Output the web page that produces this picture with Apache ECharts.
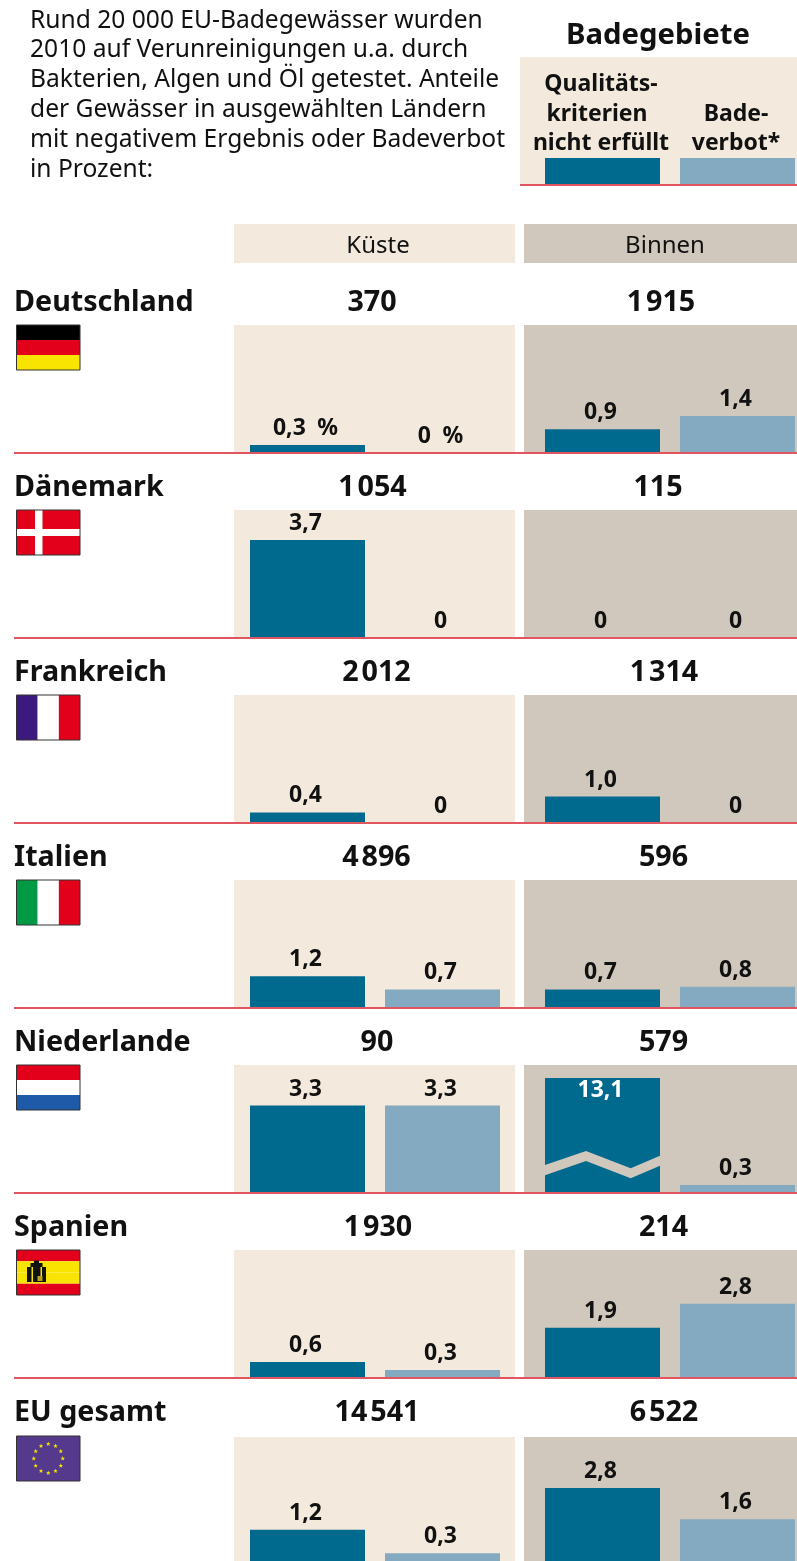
<!DOCTYPE html>
<html>
<head>
<meta charset="utf-8">
<script src="https://cdn.jsdelivr.net/npm/echarts@6/dist/echarts.min.js"></script>
<style>
html,body{margin:0;padding:0;background:#fff;overflow:hidden}
/* wider than the window: the right hand grid runs a few px past the edge */
#chart{width:830px;height:1561px}
</style>
</head>
<body>
<div id="chart"></div>
<script>
const countries=['Deutschland','Dänemark','Frankreich','Italien','Niederlande','Spanien','EU gesamt']
const coastTotal=[370,1054,2012,4896,90,1930,14541]
const inlandTotal=[1915,115,1314,596,579,214,6522]
const coastQuality=[0.3,3.7,0.4,1.2,3.3,0.6,1.2]
const coastBan=[0,0,0,0.7,3.3,0.3,0.3]
const inlandQuality=[0.9,0,1.0,0.7,13.1,1.9,2.8]
const inlandBan=[1.4,0,0,0.8,0.3,2.8,1.6]
const categories=['Qualitätskriterien nicht erfüllt','Badeverbot']
const legendSwatch=[1,1]
const introText=['Rund 20 000 EU-Badegewässer wurden','2010 auf Verunreinigungen u.a. durch','Bakterien, Algen und Öl getestet. Anteile','der Gewässer in ausgewählten Ländern','mit negativem Ergebnis oder Badeverbot','in Prozent:']

// the totals are not quite on one center line in the original
const coastTotalX=[372,372.5,376.5,376.5,377,378,377]
const inlandTotalX=[661,658,664,663.5,663.5,663.5,664]

const FONT='"Noto Sans"'
const DARK='#006a8e', LIGHT='#84aac2', SAND='#f3eadd', TAUPE='#d0c8bd', RED='#e0555f'
const ROW=185, SCALE=26.5, PANEL_H=128

const grid=[], xAxis=[], yAxis=[], series=[], elements=[]

function text(str,x,y,size,bold,align){
    elements.push({type:'text',z:20,style:{text:str,x:x,y:y,font:(bold?'bold ':'')+size+'px '+FONT,fill:'#111',textAlign:align||'left',textVerticalAlign:'middle'}})
}
function rect(x,y,w,h,fill,z){
    elements.push({type:'rect',z:z||1,shape:{x:x,y:y,width:w,height:h},style:{fill:fill,lineWidth:0}})
}
function fmtTotal(v){
    const s=String(v)
    return s.length>3?s.slice(0,-3)+'\u200a'+s.slice(-3):s
}
function fmtValue(v,unit){
    return (v===0?'0':v.toFixed(1).replace('.',','))+unit
}
function barLabel(unit){
    return {show:true,position:'top',distance:5,offset:[-2,0],fontWeight:'bold',fontSize:23,fontFamily:FONT,color:'#111',
        formatter:p=>fmtValue(p.value,unit)}
}

// one panel = one grid with two bars, the grid is a bit wider than the bars so the centers fit
function addBars(left,top,height,yMax,values,label,breaks){
    const idx=grid.length
    grid.push({left:left,top:top,width:270,height:height})
    xAxis.push({type:'category',gridIndex:idx,data:categories,show:false})
    const y={type:'value',gridIndex:idx,min:0,max:yMax,show:false}
    if(breaks){
        y.breaks=breaks
        y.breakArea={show:false}
    }
    yAxis.push(y)
    series.push({
        type:'bar',xAxisIndex:idx,yAxisIndex:idx,barWidth:115,z:5,silent:true,
        data:values.map((v,i)=>{
            const item={value:v,itemStyle:{color:i===0?DARK:LIGHT}}
            if(v>PANEL_H/SCALE){
                item.label={position:'insideTop',color:'#fff',distance:1}
            }
            return item
        }),
        label:label
    })
}

const maxPlain=PANEL_H/SCALE

countries.forEach((name,i)=>{
    const top=325+ROW*i, base=top+PANEL_H
    const panelTop=i===6?top+2:top
    rect(234,panelTop,281,base-panelTop,SAND,1)
    rect(524,panelTop,273,base-panelTop,TAUPE,1)
    // only the first coast panel has the % sign
    addBars(240,top,PANEL_H,maxPlain,[coastQuality[i],coastBan[i]],barLabel(i===0?'\u2002%':''))
    // Niederlande inland bar is 13,1, so that axis has a break
    if(inlandQuality[i]>maxPlain){
        addBars(535,top,PANEL_H,maxPlain+8.76,[inlandQuality[i],inlandBan[i]],barLabel(''),[{start:2.5,end:11.26,gap:0}])
    }else{
        addBars(535,top,PANEL_H,maxPlain,[inlandQuality[i],inlandBan[i]],barLabel(''))
    }
    rect(14,base-1,783,2,RED,15)
    text(name,14,302.5+ROW*i,28.7,true)
    text(fmtTotal(coastTotal[i]),coastTotalX[i],302.5+ROW*i,28.7,true,'center')
    text(fmtTotal(inlandTotal[i]),inlandTotalX[i],302.5+ROW*i,28.7,true,'center')
})

// legend
rect(520,57,277,128,SAND,1)
addBars(535,158,27,1,legendSwatch,{show:false})
rect(520,184,277,2,RED,15)
text('Badegebiete',658,36,29.3,true,'center')
text('Qualitäts-',601,84,23,true,'center')
text('kriterien',597,114,23,true,'center')
text('nicht erfüllt',601,143,23,true,'center')
text('Bade-',736,114,23,true,'center')
text('verbot*',736,143,23,true,'center')

introText.forEach((line,i)=>text(line,30,20.5+i*29.8,24.6,false))

// column heads
rect(234,224,281,39,SAND,1)
rect(524,224,273,39,TAUPE,1)
text('Küste',378,246.5,24,false,'center')
text('Binnen',665,246.5,24,false,'center')

// the zigzag over the broken bar
elements.push({type:'polygon',z:12,shape:{points:[[545,1165],[586,1151],[630.7,1168.3],[660,1155.7],[660,1165.7],[630.7,1178.3],[586,1161],[545,1175.3]]},style:{fill:TAUPE}})

// flags
function flag(i,draw){
    const x=16.5, y=325+ROW*i+(i===6?1:0), w=63.5, h=45
    draw(x,y,w,h)
    elements.push({type:'rect',z:9,shape:{x:x,y:y,width:w,height:h},style:{fill:'none',stroke:'#333',lineWidth:1}})
}
function hStripes(x,y,w,h,cols){
    cols.forEach((c,k)=>rect(x,y+k*h/cols.length,w,h/cols.length,c,5))
}
function vStripes(x,y,w,h,cols){
    cols.forEach((c,k)=>rect(x+k*w/cols.length,y,w/cols.length,h,c,5))
}
const FRED='#e2001a', FYEL='#f8e400'
flag(0,(x,y,w,h)=>hStripes(x,y,w,h,['#000',FRED,FYEL]))
flag(1,(x,y,w,h)=>{
    rect(x,y,w,h,FRED,5)
    rect(x+18.5,y,7.5,h,'#fff',6)
    rect(x,y+19,w,7,'#fff',6)
})
flag(2,(x,y,w,h)=>vStripes(x,y,w,h,['#3c1a7d','#fff',FRED]))
flag(3,(x,y,w,h)=>vStripes(x,y,w,h,['#009a44','#fff',FRED]))
flag(4,(x,y,w,h)=>hStripes(x,y,w,h,[FRED,'#fff','#1e5aa8']))
flag(5,(x,y,w,h)=>{
    hStripes(x,y,w,h,[FRED,FYEL,FYEL,FRED])
    // coat of arms, only a rough blob
    rect(x+10.5,y+17,19,15,'#111',6)
    rect(x+14,y+13,12,6,'#111',6)
    rect(x+17.5,y+10.5,5,4,'#111',6)
    rect(x+15,y+17,1.5,15,FYEL,7)
    rect(x+24,y+17,1.5,9,FYEL,7)
    rect(x+21,y+26,5,5,'#b8a020',7)
})
flag(6,(x,y,w,h)=>{
    rect(x,y,w,h,'#54398d',5)
    const cx=x+w/2, cy=y+h/2
    for(let k=0;k<12;k++){
        const a=k*Math.PI/6
        const sx=cx+Math.sin(a)*14.5, sy=cy-Math.cos(a)*14.5
        const pts=[]
        for(let j=0;j<10;j++){
            const r=j%2?1:2.4, b=j*Math.PI/5
            pts.push([sx+Math.sin(b)*r,sy-Math.cos(b)*r])
        }
        elements.push({type:'polygon',z:6,shape:{points:pts},style:{fill:FYEL}})
    }
})

const chart=echarts.init(document.getElementById('chart'))
chart.setOption({
    animation:false,
    grid:grid,
    xAxis:xAxis,
    yAxis:yAxis,
    series:series,
    graphic:{elements:elements}
})
</script>
</body>
</html>
